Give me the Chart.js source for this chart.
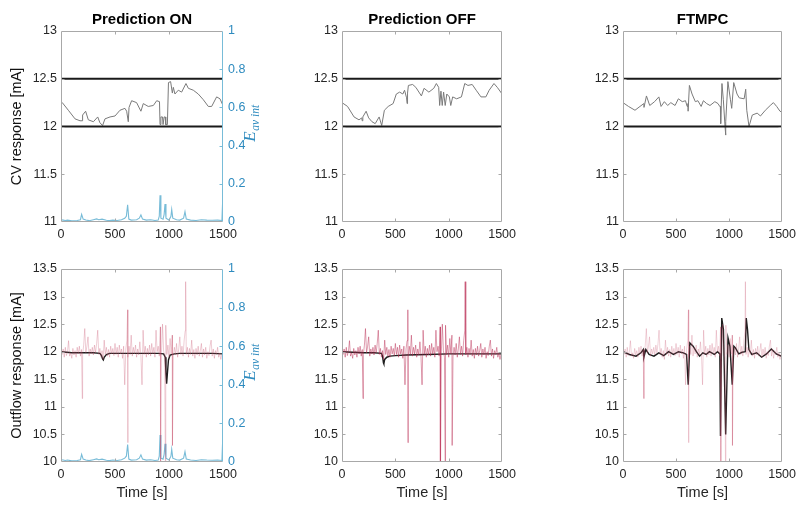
<!DOCTYPE html>
<html><head><meta charset="utf-8">
<script src="https://cdn.jsdelivr.net/npm/chart.js@4.4.0/dist/chart.umd.min.js"></script>
<style>
html,body{margin:0;padding:0;background:#fff;width:801px;height:506px;overflow:hidden}
canvas{position:absolute;display:block}
</style></head><body>
<canvas id="c1" width="270" height="245" style="left:0;top:0"></canvas>
<canvas id="c2" width="241" height="245" style="left:280px;top:0"></canvas>
<canvas id="c3" width="241" height="245" style="left:560px;top:0"></canvas>
<canvas id="c4" width="270" height="261" style="left:0;top:245px"></canvas>
<canvas id="c5" width="241" height="261" style="left:280px;top:245px"></canvas>
<canvas id="c6" width="241" height="261" style="left:560px;top:245px"></canvas>
<script>
// ================= DATA =================
const panelTitles = ['Prediction ON', 'Prediction OFF', 'FTMPC'];
const cvAxisTitle = 'CV response [mA]';
const outAxisTitle = 'Outflow response [mA]';
const timeAxisTitle = 'Time [s]';
const cvLimits = [12, 12.5];

// CV response, Prediction ON
const cvOnT = [0, 12, 68, 130, 176, 195, 200, 228, 253, 300, 340, 360, 385, 407, 454, 500, 546, 592, 608, 623, 630, 654, 700, 740, 762, 808, 855, 886, 912, 917, 925, 940, 945, 955, 965, 970, 985, 995, 1015, 1031, 1040, 1055, 1086, 1117, 1157, 1179, 1225, 1271, 1318, 1364, 1395, 1441, 1472, 1500];
const cvOnV = [12.25, 12.25, 12.17, 12.08, 12.06, 12.06, 12.12, 12.16, 12.07, 12.05, 12.1, 12.04, 12.01, 12.08, 12.1, 12.11, 12.17, 12.19, 12.16, 12.05, 12.2, 12.27, 12.25, 12.16, 12.24, 12.21, 12.22, 12.27, 12.26, 12.02, 12.1, 12.1, 12.02, 12.1, 12.1, 12.02, 12.02, 12.46, 12.47, 12.35, 12.41, 12.34, 12.38, 12.36, 12.45, 12.4, 12.38, 12.34, 12.28, 12.21, 12.21, 12.31, 12.29, 12.22];

// CV response, Prediction OFF
const cvOffT = [0, 6, 52, 113, 159, 185, 189, 195, 226, 250, 281, 311, 348, 372, 397, 433, 479, 509, 540, 570, 586, 605, 610, 614, 622, 662, 692, 744, 769, 814, 860, 884, 906, 915, 927, 939, 952, 967, 982, 1006, 1019, 1037, 1074, 1119, 1150, 1180, 1220, 1257, 1302, 1348, 1379, 1424, 1455, 1500];
const cvOffV = [12.25, 12.25, 12.21, 12.1, 12.07, 12.09, 12.06, 12.1, 12.16, 12.09, 12.05, 12.03, 12.1, 12.01, 12.17, 12.21, 12.24, 12.34, 12.36, 12.34, 12.38, 12.3, 12.24, 12.35, 12.43, 12.44, 12.41, 12.32, 12.4, 12.36, 12.4, 12.45, 12.41, 12.22, 12.37, 12.22, 12.36, 12.22, 12.34, 12.31, 12.22, 12.31, 12.29, 12.31, 12.45, 12.43, 12.44, 12.38, 12.31, 12.31, 12.38, 12.45, 12.41, 12.34];

// CV response, FTMPC
const cvFtT = [0, 6, 52, 113, 160, 196, 198, 221, 252, 298, 338, 359, 390, 421, 451, 491, 522, 559, 589, 605, 612, 614, 626, 651, 682, 706, 737, 758, 789, 820, 866, 896, 912, 918, 921, 933, 946, 962, 967, 970, 989, 1013, 1025, 1044, 1075, 1096, 1142, 1157, 1167, 1188, 1219, 1265, 1296, 1342, 1388, 1418, 1449, 1480, 1500];
const cvFtV = [12.25, 12.25, 12.21, 12.17, 12.21, 12.24, 12.2, 12.32, 12.22, 12.26, 12.31, 12.21, 12.26, 12.22, 12.25, 12.22, 12.29, 12.26, 12.27, 12.21, 12.24, 12.16, 12.43, 12.34, 12.26, 12.27, 12.21, 12.27, 12.24, 12.22, 12.26, 12.24, 12.21, 12.21, 12.03, 12.45, 12.28, 12.0, 11.91, 12.05, 12.47, 12.28, 12.19, 12.46, 12.34, 12.3, 12.29, 12.39, 12.17, 12.0, 12.12, 12.14, 12.11, 12.17, 12.22, 12.25, 12.21, 12.16, 12.15];

// E_av int (right axis, Prediction ON)
const eavT = [0, 20, 40, 60, 100, 150, 180, 191, 205, 230, 260, 300, 330, 350, 380, 420, 450, 480, 520, 560, 590, 605, 617, 628, 650, 700, 725, 740, 755, 790, 830, 870, 900, 910, 917, 925, 945, 955, 963, 972, 1000, 1018, 1025, 1035, 1070, 1100, 1135, 1148, 1160, 1200, 1250, 1300, 1350, 1400, 1450, 1490, 1497, 1500];
const eavV = [0.012, 0.01, 0.008, 0.01, 0.006, 0.008, 0.012, 0.04, 0.015, 0.01, 0.007, 0.012, 0.016, 0.012, 0.015, 0.009, 0.007, 0.01, 0.008, 0.012, 0.02, 0.03, 0.09, 0.015, 0.01, 0.012, 0.02, 0.037, 0.015, 0.01, 0.012, 0.008, 0.01, 0.03, 0.14, 0.02, 0.015, 0.04, 0.094, 0.02, 0.01, 0.03, 0.066, 0.02, 0.012, 0.01, 0.02, 0.054, 0.015, 0.01, 0.008, 0.012, 0.01, 0.009, 0.01, 0.008, 0.115, 0.11];

// Measured outflow (red, noisy), sampled every 10 s from 0 to 1500
const outMeasV = [
 12.02, 11.95, 12.05, 11.9, 12.08, 11.93, 12.0, 12.2, 11.92, 11.98,
 11.88, 12.06, 11.94, 12.02, 11.9, 12.08, 11.96, 12.1, 11.92, 12.04,
 11.95, 12.12, 12.42, 11.98, 12.1, 12.27, 11.92, 12.05, 11.96, 12.08,
 11.94, 12.12, 11.98, 12.15, 12.39, 11.95, 12.06, 11.9, 12.02, 11.86,
 12.21, 11.95, 12.08, 11.92, 12.04, 11.9, 12.1, 11.96, 12.06, 11.93,
 12.15, 11.95, 12.08, 11.9, 12.12, 11.96, 12.05, 11.88, 12.1, 11.4,
 12.05, 12.2, 11.9, 12.1, 11.95, 12.3, 11.92, 12.08, 11.96, 12.12,
 11.9, 12.05, 11.94, 12.18, 11.92, 11.4, 12.39, 11.95, 12.1, 11.9,
 12.06, 11.94, 12.12, 11.92, 12.15, 11.96, 12.08, 11.9, 12.39, 12.0,
 12.1, 11.92, 12.45, 11.95, 12.5, 12.02, 11.9, 12.48, 11.95, 12.12,
 11.9, 12.24, 11.96, 12.3, 11.92, 12.08, 11.94, 12.15, 11.9, 12.05,
 12.27, 11.95, 12.1, 11.92, 12.2, 12.38, 11.95, 12.08, 11.9, 12.06,
 11.95, 12.21, 11.92, 12.04, 11.88, 12.06, 11.94, 12.1, 11.92, 12.02,
 12.15, 11.9, 12.05, 11.94, 12.08, 11.88, 12.0, 11.93, 12.1, 12.21,
 11.92, 12.05, 11.88, 12.02, 11.95, 12.08, 11.9, 11.98, 11.86, 11.95, 11.9];
const outSampleStep = 10;
const outSpikeT = [197, 617, 619, 922, 968, 1032, 1154];
const outSpikeV = [11.15, 12.76, 10.35, 9.5, 9.5, 10.3, 13.27];

// Outflow response (black)
const outOnT = [0, 50, 100, 200, 300, 360, 375, 385, 392, 400, 420, 450, 500, 600, 700, 800, 900, 950, 965, 972, 978, 985, 995, 1010, 1050, 1100, 1200, 1300, 1400, 1500];
const outOnV = [12.0, 11.99, 11.98, 11.98, 11.98, 11.97, 11.93, 11.87, 11.85, 11.9, 11.95, 11.97, 11.97, 11.97, 11.97, 11.97, 11.97, 11.96, 11.9, 11.6, 11.42, 11.6, 11.85, 11.94, 11.96, 11.97, 11.97, 11.97, 11.97, 11.96];
const outOffT = [0, 100, 200, 300, 370, 380, 388, 392, 400, 420, 450, 500, 600, 800, 1000, 1200, 1500];
const outOffV = [12.0, 11.99, 11.98, 11.98, 11.97, 11.92, 11.8, 11.78, 11.86, 11.9, 11.92, 11.93, 11.94, 11.95, 11.96, 11.96, 11.96];
const outFtT = [0, 61, 123, 169, 191, 197, 215, 246, 292, 338, 384, 430, 476, 523, 569, 599, 615, 630, 661, 692, 722, 753, 784, 815, 861, 891, 913, 919, 931, 947, 968, 990, 1008, 1030, 1045, 1060, 1091, 1122, 1153, 1162, 1174, 1187, 1214, 1260, 1307, 1353, 1399, 1445, 1491, 1500];
const outFtV = [12.0, 11.95, 11.92, 11.98, 12.04, 11.9, 12.04, 11.95, 11.92, 11.98, 11.93, 12.0, 11.95, 12.0, 11.98, 11.95, 11.4, 12.16, 12.1, 12.0, 11.92, 11.98, 11.95, 12.0, 11.95, 12.0, 11.96, 10.47, 12.61, 12.4, 10.5, 12.25, 12.1, 11.4, 12.1, 12.07, 11.96, 11.99, 12.0, 12.61, 12.4, 12.04, 11.95, 11.98, 11.9, 11.96, 12.05, 11.96, 11.92, 11.91];

// ================= STYLE =================
const FONT = "'Liberation Sans', Arial, Helvetica, sans-serif";
const TICK_C = '#262626';
const BLUE_T = '#2e8bbf';
const BLUE_L = '#78bcd8';
const BOX_C = '#a8a8a8';

function pts(t, v) { return t.map((x, i) => ({x: x, y: v[i]})); }
function measuredOutflow() {
  const p = outMeasV.map((v, i) => ({x: i * outSampleStep, y: v}));
  outSpikeT.forEach((t, i) => p.push({x: t, y: outSpikeV[i]}));
  return p.sort((a, b) => a.x - b.x);
}
function hLine(y) { return [{x: 0, y: y}, {x: 1500, y: y}]; }
function fmt(v) { return String(Math.round(v * 100) / 100); }

const boxPlugin = {
  id: 'box',
  afterDatasetsDraw(chart) {
    const {ctx, chartArea: a, scales} = chart;
    const L = Math.round(a.left) + 0.5, R = Math.round(a.right) - 0.5;
    const T = Math.round(a.top) + 0.5, B = Math.round(a.bottom) - 0.5;
    ctx.save();
    ctx.lineWidth = 1;
    ctx.strokeStyle = BOX_C;
    ctx.beginPath();
    ctx.moveTo(R, B); ctx.lineTo(L, B); ctx.lineTo(L, T); ctx.lineTo(R, T);
    if (!scales.y1) ctx.lineTo(R, B);
    ctx.stroke();
    const tl = 3;
    ctx.beginPath();
    scales.x.ticks.forEach(t => {
      const px = Math.round(scales.x.getPixelForValue(t.value)) + 0.5;
      if (px <= L + 1 || px >= R - 1) return;
      ctx.moveTo(px, B); ctx.lineTo(px, B - tl);
      ctx.moveTo(px, T); ctx.lineTo(px, T + tl);
    });
    scales.y.ticks.forEach(t => {
      const py = Math.round(scales.y.getPixelForValue(t.value)) + 0.5;
      if (py <= T + 1 || py >= B - 1) return;
      ctx.moveTo(L, py); ctx.lineTo(L + tl, py);
      if (!scales.y1) { ctx.moveTo(R, py); ctx.lineTo(R - tl, py); }
    });
    ctx.stroke();
    if (scales.y1) {
      ctx.strokeStyle = BLUE_L;
      ctx.beginPath();
      ctx.moveTo(R, T); ctx.lineTo(R, B);
      scales.y1.ticks.forEach(t => {
        const py = Math.round(scales.y1.getPixelForValue(t.value)) + 0.5;
        if (py <= T + 1 || py >= B - 1) return;
        ctx.moveTo(R, py); ctx.lineTo(R - tl, py);
      });
      ctx.stroke();
    }
    ctx.restore();
  }
};

const eLabelPlugin = {
  id: 'elabel',
  afterDraw(chart) {
    if (!chart.scales.y1) return;
    const {ctx, chartArea: a} = chart;
    const cx = a.right + 32, cy = (a.top + a.bottom) / 2 - 3;
    ctx.save();
    ctx.translate(cx, cy);
    ctx.rotate(-Math.PI / 2);
    ctx.fillStyle = BLUE_T;
    ctx.textBaseline = 'alphabetic';
    const fBig = "italic 17px 'Liberation Serif', 'DejaVu Serif', serif";
    const fSub = "italic 11.5px 'Liberation Serif', 'DejaVu Serif', serif";
    ctx.font = fBig; const wE = ctx.measureText('E').width;
    ctx.font = fSub; const wS = ctx.measureText('av int').width;
    const x0 = -(wE + wS) / 2;
    ctx.font = fBig; ctx.fillText('E', x0, 0);
    ctx.font = fSub; ctx.fillText('av int', x0 + wE + 0.5, 4);
    ctx.restore();
  }
};

function makePanel(id, cfg) {
  const tickFont = {family: FONT, size: 12.5};
  const scales = {
    x: {
      type: 'linear', min: 0, max: 1500,
      ticks: {stepSize: 500, color: TICK_C, font: tickFont, padding: 5, maxRotation: 0, callback: v => fmt(v)},
      grid: {display: false, drawTicks: false}, border: {display: false},
      title: {display: !!cfg.xTitle, text: cfg.xTitle || '', color: TICK_C,
              font: {family: FONT, size: 14.5}, padding: {top: 0, bottom: 4}},
      afterFit: s => { s.height = cfg.xH; }
    },
    y: {
      type: 'linear', min: cfg.yMin, max: cfg.yMax,
      ticks: {stepSize: 0.5, color: TICK_C, font: tickFont, padding: 4, callback: v => fmt(v)},
      grid: {display: false, drawTicks: false}, border: {display: false},
      title: {display: !!cfg.yTitle, text: cfg.yTitle || '', color: '#111',
              font: {family: FONT, size: 14.5}, padding: {top: 8, bottom: 0}},
      afterFit: s => { s.width = cfg.yW; }
    }
  };
  if (cfg.right) {
    scales.y1 = {
      type: 'linear', position: 'right', min: 0, max: 1,
      ticks: {stepSize: 0.2, color: BLUE_T, font: tickFont, padding: 5, callback: v => fmt(v)},
      grid: {display: false, drawTicks: false}, border: {display: false},
      afterFit: s => { s.width = cfg.rightW; }
    };
  }
  new Chart(document.getElementById(id), {
    type: 'line',
    data: {datasets: cfg.datasets},
    options: {
      responsive: false, animation: false, devicePixelRatio: 1,
      parsing: false, normalized: true,
      layout: {padding: {top: cfg.padTop || 0, right: cfg.padRight || 0, left: 0, bottom: 0}},
      elements: {point: {radius: 0, hoverRadius: 0}, line: {tension: 0}},
      plugins: {
        legend: {display: false}, tooltip: {enabled: false},
        title: {display: !!cfg.title, text: cfg.title || '', color: '#000', fullSize: false,
                font: {family: FONT, size: 15, weight: 'bold'}, padding: {top: 11, bottom: 2}}
      },
      scales: scales
    },
    plugins: [boxPlugin, eLabelPlugin]
  });
}

function ds(data, color, width, axis, extra) {
  return Object.assign({data: data, borderColor: color, borderWidth: width, yAxisID: axis || 'y',
                        pointRadius: 0, fill: false}, extra || {});
}

const CV_C = '#7a7a7a', LIM_C = '#1a1a1a', OUT_C = '#1e1e1e';
const topRow = [
  {id: 'c1', t: cvOnT, v: cvOnV, yW: 61, right: true, rightW: 47, yTitle: cvAxisTitle},
  {id: 'c2', t: cvOffT, v: cvOffV, yW: 62, padRight: 15},
  {id: 'c3', t: cvFtT, v: cvFtV, yW: 63, padRight: 15}
];
topRow.forEach((p, i) => {
  const sets = [
    ds(hLine(cvLimits[1]), LIM_C, 2),
    ds(hLine(cvLimits[0]), LIM_C, 2),
    ds(pts(p.t, p.v), CV_C, 1)
  ];
  if (p.right) sets.push(ds(pts(eavT, eavV), BLUE_L, 1.1, 'y1'));
  makePanel(p.id, {datasets: sets, title: panelTitles[i], yMin: 11, yMax: 13, yW: p.yW,
    xH: 23, right: p.right, rightW: p.rightW, padRight: p.padRight, yTitle: p.yTitle});
});

const botRow = [
  {id: 'c4', t: outOnT, v: outOnV, yW: 61, right: true, rightW: 47, yTitle: outAxisTitle, red: 'rgba(200,80,110,0.32)'},
  {id: 'c5', t: outOffT, v: outOffV, yW: 62, padRight: 15, red: 'rgba(185,40,80,0.5)'},
  {id: 'c6', t: outFtT, v: outFtV, yW: 63, padRight: 15, red: 'rgba(200,80,110,0.28)'}
];
botRow.forEach(p => {
  const sets = [
    ds(measuredOutflow(), p.red, 0.9),
    ds(pts(p.t, p.v), OUT_C, 1.4)
  ];
  if (p.right) sets.push(ds(pts(eavT, eavV), BLUE_L, 1.1, 'y1'));
  makePanel(p.id, {datasets: sets, yMin: 10, yMax: 13.5, yW: p.yW, xH: 44, padTop: 24,
    right: p.right, rightW: p.rightW, padRight: p.padRight, yTitle: p.yTitle, xTitle: timeAxisTitle});
});
</script>
</body></html>
